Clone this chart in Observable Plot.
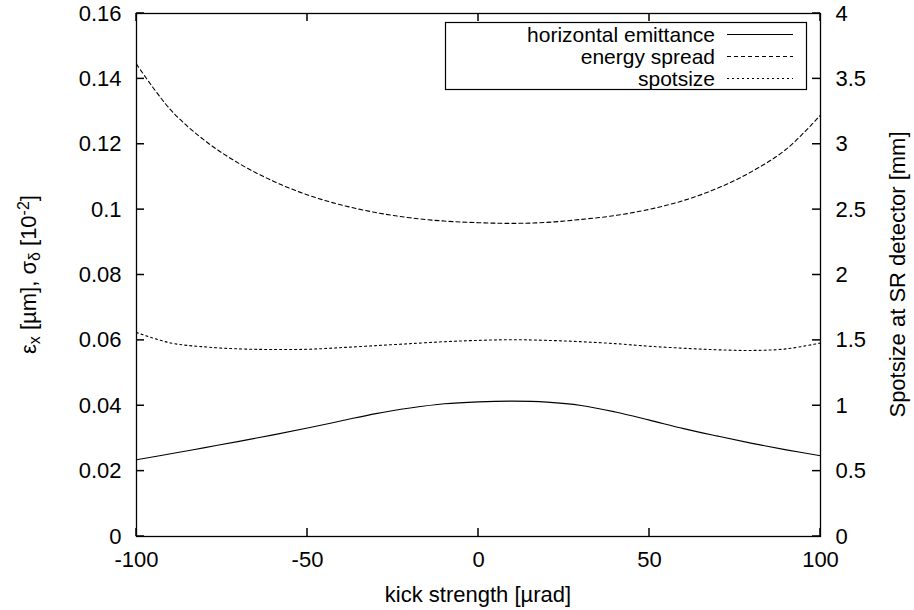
<!DOCTYPE html>
<html>
<head>
<meta charset="utf-8">
<script src="https://cdn.jsdelivr.net/npm/d3@7"></script>
<script src="https://cdn.jsdelivr.net/npm/@observablehq/plot@0.6"></script>
<style>
  html, body { margin: 0; padding: 0; background: #fff; }
  #chart { width: 914px; height: 610px; }
</style>
</head>
<body>
<div id="chart"></div>
<script>
// kick strength [µrad]
const kick = [-100, -90, -80, -70, -60, -50, -40, -30, -20, -10, 0, 10, 20, 30, 40, 50, 60, 70, 80, 90, 100];
// horizontal emittance [µm] (left axis)
const emittance = [0.0235, 0.0253, 0.0272, 0.0291, 0.0311, 0.0332, 0.0354, 0.0376, 0.0393, 0.0406, 0.0412, 0.0414, 0.0411, 0.0401, 0.0381, 0.0356, 0.0330, 0.0307, 0.0285, 0.0265, 0.0247];
// energy spread [10^-2] (left axis)
const energySpread = [0.1445, 0.1305, 0.1211, 0.1141, 0.1087, 0.1045, 0.1014, 0.0991, 0.0975, 0.0965, 0.0960, 0.0958, 0.0961, 0.0970, 0.0982, 0.1001, 0.1028, 0.1066, 0.1117, 0.1185, 0.1289];
// spotsize at SR detector [mm] (right axis)
const spotsizeMm = [1.56, 1.48, 1.45, 1.435, 1.43, 1.432, 1.445, 1.46, 1.475, 1.49, 1.50, 1.505, 1.50, 1.49, 1.475, 1.455, 1.44, 1.428, 1.423, 1.435, 1.48];

const xTicks = [-100, -50, 0, 50, 100];
const leftTicks = [0, 0.02, 0.04, 0.06, 0.08, 0.1, 0.12, 0.14, 0.16];
const rightTicksMm = [0, 0.5, 1, 1.5, 2, 2.5, 3, 3.5, 4];
const xMin = -100, xMax = 100;
const leftMax = 0.16, rightMax = 4;
const ratio = rightMax / leftMax; // mm per left unit

const series = [
  {name: "horizontal emittance", values: emittance, dash: null},
  {name: "energy spread", values: energySpread, dash: "4,3"},
  {name: "spotsize", values: spotsizeMm.map(v => v / ratio), dash: "2,3"}
];

const W = 914, H = 610, ML = 136, MR = 94, MT = 13, MB = 74;
const frameW = W - ML - MR, frameH = H - MT - MB, TICK = 8;

const fmt = d => String(+(+d).toFixed(3));
const FONT = "'Liberation Sans', Arial, Helvetica, sans-serif";
const rightTicks = rightTicksMm.map(v => v / ratio);

const marks = [
  Plot.frame({stroke: "#000", strokeWidth: 1.3}),
  Plot.axisX({ticks: xTicks, tickSize: 0, tickPadding: 15, tickFormat: d => String(d), label: null}),
  Plot.axisY({ticks: leftTicks, tickSize: 0, tickPadding: 15, tickFormat: fmt, label: null}),
  Plot.axisY({anchor: "right", ticks: rightTicks, tickSize: 0, tickPadding: 15,
              tickFormat: d => fmt(d * ratio), label: null})
];
for (const s of series) {
  marks.push(Plot.line(kick.map((k, i) => ({k, v: s.values[i]})), {
    x: "k", y: "v", curve: "catmull-rom", stroke: "#000", strokeWidth: 1.1,
    strokeDasharray: s.dash || undefined
  }));
}

const plot = Plot.plot({
  width: W,
  height: H,
  marginLeft: ML,
  marginRight: MR,
  marginTop: MT,
  marginBottom: MB,
  style: {fontFamily: FONT, fontSize: "22px", color: "#000", background: "#fff"},
  x: {domain: [xMin, xMax]},
  y: {domain: [0, leftMax]},
  marks
});
document.getElementById("chart").append(plot);

const svg = d3.select(plot);
const xs = plot.scale("x"), ys = plot.scale("y");

// inward tick marks (gnuplot style), positioned through Plot's own scales
const tg = svg.append("g");
function tick(x1, y1, x2, y2) {
  tg.append("path").attr("d", `M${x1},${y1}L${x2},${y2}`)
    .attr("fill", "none").attr("stroke", "#000").attr("stroke-width", 1.5);
}
for (const v of leftTicks) {
  const y = ys.apply(v), x0 = xs.apply(xMin);
  tick(x0, y, x0 + TICK, y);
}
for (const v of rightTicks) {
  const y = ys.apply(v), x0 = xs.apply(xMax);
  tick(x0 - TICK, y, x0, y);
}
for (const v of xTicks) {
  const x = xs.apply(v), yb = ys.apply(0), yt = ys.apply(leftMax);
  tick(x, yb, x, yb - TICK);
  tick(x, yt, x, yt + TICK);
}

// Axis titles
const g = svg.append("g").attr("font-family", FONT).attr("font-size", 22).attr("fill", "#000");
const midY = MT + frameH / 2;

const lt = g.append("text").attr("transform", `translate(36,${midY}) rotate(-90)`).attr("text-anchor", "middle");
lt.append("tspan").text("ε");
lt.append("tspan").attr("font-size", 16).attr("baseline-shift", "-25%").text("x");
lt.append("tspan").text(" [µm], σ");
lt.append("tspan").attr("font-size", 16).attr("baseline-shift", "-25%").text("δ");
lt.append("tspan").text(" [10");
lt.append("tspan").attr("font-size", 16).attr("baseline-shift", "45%").text("-2");
lt.append("tspan").text("]");

g.append("text").attr("transform", `translate(905,${midY}) rotate(-90)`).attr("text-anchor", "middle")
  .text("Spotsize at SR detector [mm]");

g.append("text").attr("x", ML + frameW / 2).attr("y", 602).attr("text-anchor", "middle").text("kick strength [µrad]");

// legend
const lg = svg.append("g").attr("font-family", FONT).attr("font-size", 21);
lg.append("rect").attr("x", 445.5).attr("y", 22.5).attr("width", 361).attr("height", 67)
  .attr("fill", "#fff").attr("stroke", "#000").attr("stroke-width", 1.2);
series.forEach((s, i) => {
  const base = 42 + i * 22;
  lg.append("text").attr("x", 715).attr("y", base).attr("text-anchor", "end").attr("fill", "#000").text(s.name);
  lg.append("line").attr("x1", 727).attr("x2", 793).attr("y1", base - 7.5).attr("y2", base - 7.5)
    .attr("stroke", "#000").attr("stroke-width", 1.1).attr("stroke-dasharray", s.dash || null);
});
</script>
</body>
</html>
